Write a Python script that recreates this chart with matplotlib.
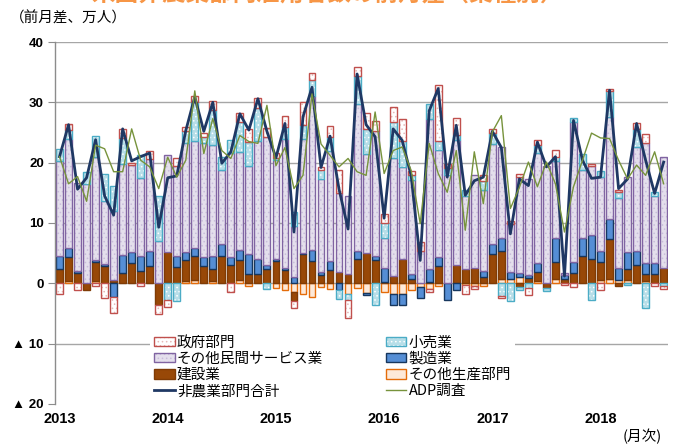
import numpy as np
import matplotlib
matplotlib.use('Agg')
import matplotlib.pyplot as plt
from matplotlib.patches import Patch
from matplotlib.lines import Line2D

plt.rcParams['font.family'] = ['Noto Sans CJK JP', 'DejaVu Sans']
plt.rcParams['hatch.linewidth'] = 0.6

# monthly change by sector, 10k persons (Jan 2013 - Aug 2018)
other_prod = [0.0, 0.4, 0.0, 0.0, 0.4, 0.0, 0.2, 0.0, 0.0, 0.0, 0.0, 0.0,
              0.2, 0.0, 0.4, 0.6, 0.0, 0.4, 0.0, 0.0, 0.5, -0.4, 0.0, 0.0,
              -0.8, -1.1, -1.4, -1.7, -2.2, -0.6, -1.0, 0.0, -1.7, -0.8, -1.6, 0.0,
              -1.4, -1.7, -1.7, -1.1, -0.6, -1.0, -0.4, 0.0, 0.0, -0.3, -0.5, -0.5,
              0.0, 0.7, 0.7, 1.0, 0.0, 0.4, 0.0, 0.7, 0.0, 0.0, 0.0, 0.0,
              0.6, 0.7, 0.6, 0.6, 0.0, 0.4, 0.0, 0.0]
construction = [2.3, 4.0, 1.7, -1.1, 3.2, 2.9, 0.3, 1.7, 3.4, 2.0, 2.9, -3.6,
                5.0, 2.7, 3.4, 4.0, 2.9, 1.9, 4.6, 3.0, 3.3, 1.6, 1.5, 2.3,
                3.7, 2.2, -1.6, 4.8, 3.7, 1.4, 2.2, 1.8, 1.5, 4.0, 5.1, 3.8,
                0.3, 1.2, 4.0, 0.8, 0.0, 0.3, 2.9, 0.0, 3.0, 2.3, 2.6, 1.0,
                4.9, 4.6, 0.0, -0.6, 0.9, 1.5, -0.7, 2.8, 0.8, 1.7, 4.6, 4.1,
                2.9, 6.7, -0.5, 1.8, 3.0, 1.2, 1.5, 2.6]
manufacturing = [2.3, 1.4, 0.4, 0.0, 0.3, 0.3, -2.2, 3.0, 1.8, 2.5, 2.4, 0.0,
                 0.0, 1.9, 1.4, 1.3, 1.4, 2.3, 1.9, 1.3, 1.7, 3.2, 2.5, 0.8,
                 0.3, 0.4, 1.0, 0.3, 1.8, 0.4, 1.5, -1.1, 0.0, 1.3, -0.4, 0.7,
                 2.3, -1.9, -1.9, 0.7, -1.9, 2.1, 1.4, -2.7, -1.1, 0.0, 0.0, 1.0,
                 1.7, 2.2, 1.1, 0.7, 0.5, 1.5, 0.0, 4.0, 0.6, 1.8, 2.9, 3.9,
                 1.8, 3.2, 2.0, 2.8, 2.3, 1.8, 1.8, 0.0]
services = [15.6, 18.1, 14.5, 16.5, 17.1, 10.5, 11.5, 15.1, 14.4, 12.9, 15.3, 7.0,
            16.1, 14.8, 18.1, 17.7, 18.9, 18.4, 12.3, 17.3, 16.2, 14.6, 19.6, 21.1,
            16.4, 21.3, 8.5, 18.8, 25.6, 15.5, 18.2, 13.1, 13.0, 24.4, 16.4, 20.7,
            4.9, 19.6, 15.2, 15.7, 5.4, 24.9, 17.8, 18.0, 20.7, 12.2, 15.4, 13.5,
            16.5, 15.1, 8.0, 16.0, 15.9, 18.2, 19.5, 12.8, 0.3, 23.2, 11.3, 11.5,
            12.3, 16.9, 11.6, 12.4, 17.3, 19.9, 11.2, 18.4]
retail = [2.1, 1.5, 0.0, 2.0, 3.4, 4.4, 4.1, 4.3, 0.0, 3.9, 0.0, 7.5,
          -2.8, -3.0, 1.9, 6.4, 1.1, 5.8, 2.2, 2.2, 5.0, 4.1, 5.4, -1.0,
          0.4, 2.0, 2.4, 2.3, 2.6, 1.5, 2.3, -1.5, -1.1, 4.7, 4.0, -3.6,
          2.5, 5.9, 4.4, 0.7, 0.0, 2.4, 1.5, 1.1, 0.9, 0.9, 0.0, 1.5,
          1.9, -2.1, -3.0, -0.5, -0.8, 1.4, -0.5, 0.6, 0.0, 0.7, 2.6, -2.7,
          1.1, 4.3, 0.9, -0.3, 3.0, -4.1, 0.6, -0.5]
government = [-1.8, 1.0, -1.1, 0.0, -0.5, -2.4, -2.8, 1.5, 0.3, -0.5, 1.4, -1.5,
              -1.1, 1.3, 0.7, 1.0, 0.7, 1.5, 0.0, -1.4, 1.5, 2.0, 1.7, 1.5,
              0.8, 1.8, -1.1, 3.8, 1.1, 0.4, 1.9, 3.9, -3.0, 1.4, 2.7, 1.7,
              1.5, 2.5, 3.6, 0.7, 1.5, -0.5, 9.3, 0.6, 2.8, -1.4, -0.5, 0.9,
              0.6, -0.4, 0.6, 0.4, -1.1, 0.7, 0.0, 1.2, -0.3, -0.6, 0.0, 0.2,
              -1.1, 0.4, 0.4, 0.0, 0.9, 1.5, -0.4, -0.4]
nfp_total = [21.0, 26.3, 15.6, 17.5, 23.8, 14.5, 11.3, 25.6, 20.3, 21.0, 21.6, 9.3,
             17.5, 17.8, 25.3, 30.9, 25.2, 30.0, 19.9, 21.8, 28.1, 25.4, 30.6, 25.2,
             20.8, 26.5, 8.5, 27.6, 32.5, 19.2, 24.4, 15.6, 9.0, 34.7, 26.3, 24.3,
             10.8, 25.6, 23.7, 17.8, 3.8, 28.6, 32.3, 17.6, 26.2, 14.6, 17.0, 17.6,
             25.2, 22.5, 8.2, 17.3, 16.2, 23.4, 19.3, 21.0, 1.2, 27.0, 20.4, 17.4,
             17.6, 32.0, 15.7, 17.3, 26.5, 20.4, 14.9, 20.1]
adp = [21.0, 16.5, 17.7, 13.6, 22.9, 22.3, 18.5, 18.5, 25.6, 20.4, 19.3, 15.7,
       20.9, 17.6, 20.4, 31.9, 21.5, 27.3, 22.0, 20.7, 24.5, 23.5, 23.2, 29.5,
       19.5, 22.5, 15.7, 17.9, 31.4, 23.1, 21.2, 19.3, 20.7, 18.5, 17.9, 28.4,
       18.2, 22.0, 22.6, 18.7, 9.9, 23.2, 18.2, 15.1, 22.0, 8.8, 21.8, 13.2,
       25.1, 27.8, 12.4, 15.9, 20.1, 16.0, 20.1, 16.5, 8.5, 16.0, 20.4, 24.9,
       24.1, 24.0, 20.4, 17.3, 19.6, 17.9, 21.8, 16.5]
year_labels = ['2013', '2014', '2015', '2016', '2017', '2018']

n = len(nfp_total)
months = np.arange(n)

fig = plt.figure(figsize=(6.76, 4.44), dpi=100)
ax = fig.add_axes([0.0814, 0.0901, 0.907, 0.8153])

# (values, label, face, edge, dot colour, hatch) - stacked bottom to top
series = [
    (other_prod, 'その他生産部門', '#FDE9D9', '#E46C0A', None, None),
    (construction, '建設業', '#984807', '#7F3B05', None, None),
    (manufacturing, '製造業', '#558ED5', '#17375E', None, None),
    (services, 'その他民間サービス業', '#E4DFEC', '#8064A2', '#C9BDDB', '....'),
    (retail, '小売業', '#B7DEE8', '#4BACC6', '#FFFFFF', '....'),
    (government, '政府部門', '#FFFFFF', '#C0504D', '#E6B9B8', '....'),
]

bar_w = 0.76
pos_bottom = np.zeros(n)
neg_bottom = np.zeros(n)
handles = {}
for vals, label, face, edge, dots, hatch in series:
    v = np.array(vals, dtype=float)
    bottom = np.where(v >= 0, pos_bottom, neg_bottom)
    m = v != 0
    if hatch:
        ax.bar(months[m], v[m], bar_w, bottom=bottom[m], facecolor=face,
               edgecolor=dots, linewidth=0, hatch=hatch, zorder=2)
        ax.bar(months[m], v[m], bar_w, bottom=bottom[m], facecolor='none',
               edgecolor=edge, linewidth=1.0, zorder=2)
        handles[label] = (Patch(facecolor=face, edgecolor=dots, linewidth=0, hatch=hatch),
                          Patch(facecolor='none', edgecolor=edge, linewidth=1.0))
    else:
        ax.bar(months[m], v[m], bar_w, bottom=bottom[m], facecolor=face,
               edgecolor=edge, linewidth=1.0, zorder=2)
        handles[label] = Patch(facecolor=face, edgecolor=edge, linewidth=1.0)
    pos_bottom += np.where(v > 0, v, 0)
    neg_bottom += np.where(v < 0, v, 0)

ax.plot(months, nfp_total, color='#1F3864', linewidth=2.0, zorder=3)
ax.plot(months, adp, color='#77933C', linewidth=1.0, zorder=4)
handles['非農業部門合計'] = Line2D([], [], color='#1F3864', linewidth=2.0)
handles['ADP調査'] = Line2D([], [], color='#77933C', linewidth=1.0)

ax.set_xlim(-0.5, n - 0.5)
ax.set_ylim(-20, 40)
for y in [-10, 0, 10, 20, 30, 40]:
    ax.axhline(y, color='#A6A6A6', linewidth=1.0, zorder=1)

for s in ['top', 'right', 'bottom']:
    ax.spines[s].set_visible(False)
ax.spines['left'].set_color('#8C8C8C')
ax.spines['left'].set_linewidth(1.0)

ax.set_yticks([-20, -10, 0, 10, 20, 30, 40])
ax.set_yticklabels(['▲ 20', '▲ 10', '0', '10', '20', '30', '40'],
                   family=['Liberation Sans', 'DejaVu Sans'], fontweight='bold', fontsize=9.5)
ax.tick_params(axis='y', length=5, color='#8C8C8C', pad=3)

ax.set_xticks(np.arange(0, n, 12))
ax.set_xticklabels(year_labels, family=['Liberation Sans Narrow', 'Liberation Sans'],
                   fontweight='bold', fontsize=10.5)
ax.tick_params(axis='x', length=0, pad=6)

order = ['政府部門', 'その他民間サービス業', '建設業', '非農業部門合計',
         '小売業', '製造業', 'その他生産部門', 'ADP調査']
leg = ax.legend([handles[k] for k in order], order, ncol=2,
                loc='upper left', bbox_to_anchor=(150 / 676, 1 - 331 / 444),
                bbox_transform=fig.transFigure, fontsize=10.5, frameon=True,
                facecolor='white', edgecolor='none', framealpha=1.0, fancybox=False,
                handlelength=1.4, handleheight=0.6, handletextpad=0.15,
                labelspacing=0.16, columnspacing=4.3, borderpad=0.3, borderaxespad=0)
leg.set_zorder(5)

fig.text(10 / 676, 1 - 18 / 444, '（前月差、万人）', fontsize=10.5, va='center', ha='left')
fig.text(662 / 676, 1 - 436 / 444, '(月次)', fontsize=10.5, va='center', ha='right')
# title strip cut off at the top edge, as in the source image
fig.text(91 / 676, 1 - 6 / 444, '米国非農業部門雇用者数の前月差（業種別）', fontsize=17,
         fontweight='bold', color='#F79646', va='bottom', ha='left')

fig.savefig('out.png', dpi=100)
